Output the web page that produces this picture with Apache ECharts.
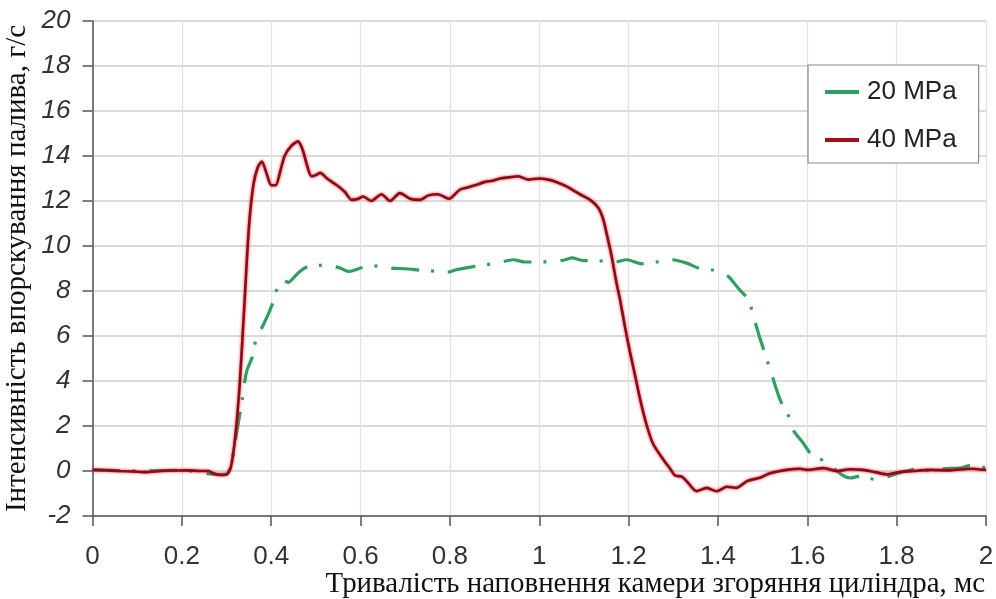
<!DOCTYPE html>
<html>
<head>
<meta charset="utf-8">
<script src="https://cdn.jsdelivr.net/npm/echarts@6/dist/echarts.min.js"></script>
<style>
  html, body { margin: 0; padding: 0; background: #fff; }
  #chart { width: 996px; height: 599px; }
</style>
</head>
<body>
<div id="chart"></div>
<script>
// Fuel injection rate vs. time for two rail pressures
const yTicks = [-2, 0, 2, 4, 6, 8, 10, 12, 14, 16, 18, 20];
const xTicks = [0, 0.2, 0.4, 0.6, 0.8, 1, 1.2, 1.4, 1.6, 1.8, 2];
const seriesNames = ['20 MPa', '40 MPa'];

// 20 MPa
const t20 = [0, 0.1, 0.2, 0.28, 0.30, 0.31, 0.32, 0.335, 0.345, 0.357, 0.365, 0.38, 0.393, 0.406,
  0.416, 0.427, 0.438, 0.453, 0.464, 0.483, 0.513, 0.539, 0.554, 0.573, 0.606, 0.644, 0.67, 0.7,
  0.737, 0.774, 0.793, 0.815, 0.834, 0.871, 0.905, 0.942, 0.968, 1.003, 1.035, 1.058, 1.073, 1.099,
  1.13, 1.166, 1.196, 1.229, 1.261, 1.296, 1.33, 1.356, 1.391, 1.423, 1.445, 1.468, 1.482, 1.494,
  1.517, 1.539, 1.557, 1.569, 1.591, 1.606, 1.621, 1.636, 1.66, 1.68, 1.696, 1.722, 1.748, 1.781,
  1.81, 1.837, 1.852, 1.875, 1.904, 1.942, 1.964, 2.0];
const v20 = [0.05, 0.0, 0.03, -0.15, -0.15, 0.2, 1.4, 3.17, 4.43, 5.03, 5.76, 6.4, 6.95, 7.6,
  8.28, 8.5, 8.38, 8.65, 8.87, 9.09, 9.14, 9.09, 9.02, 8.87, 9.05, 9.12, 9.02, 8.99,
  8.92, 8.87, 8.83, 8.95, 9.02, 9.14, 9.24, 9.39, 9.29, 9.29, 9.32, 9.39, 9.47, 9.35,
  9.35, 9.27, 9.39, 9.21, 9.29, 9.39, 9.24, 9.02, 8.92, 8.65, 8.13, 7.61, 6.7, 5.9,
  4.5, 3.17, 2.5, 1.8, 1.24, 0.8, 0.58, 0.47, 0.1, -0.2, -0.31, -0.21, -0.36, -0.24,
  -0.05, 0.06, 0.13, 0.0, 0.1, 0.13, 0.24, 0.15];

// 40 MPa
const t40 = [0, 0.03, 0.06, 0.09, 0.12, 0.15, 0.18, 0.21, 0.24, 0.26, 0.27, 0.285, 0.30, 0.31,
  0.32, 0.33, 0.34, 0.35, 0.36, 0.37, 0.379, 0.39, 0.40, 0.41, 0.42, 0.43, 0.445, 0.46, 0.47,
  0.48, 0.49, 0.50, 0.51, 0.525, 0.547, 0.565, 0.58, 0.595, 0.606, 0.624, 0.647, 0.666, 0.688,
  0.711, 0.733, 0.752, 0.773, 0.798, 0.822, 0.84, 0.856, 0.879, 0.895, 0.912, 0.932, 0.953,
  0.975, 1.0, 1.02, 1.035, 1.061, 1.091, 1.114, 1.132, 1.143, 1.152, 1.162, 1.173, 1.181,
  1.192, 1.203, 1.215, 1.226, 1.241, 1.255, 1.278, 1.293, 1.304, 1.319, 1.332, 1.352, 1.375,
  1.397, 1.42, 1.442, 1.465, 1.494, 1.517, 1.554, 1.584, 1.599, 1.636, 1.666, 1.696, 1.725,
  1.752, 1.778, 1.807, 1.837, 1.875, 1.92, 1.964, 2.0];
const v40 = [0.05, 0.03, 0.0, -0.02, -0.05, 0.0, 0.02, 0.03, 0.0, 0.0, -0.1, -0.18, -0.15, 0.2,
  1.6, 4.0, 7.4, 10.8, 12.7, 13.5, 13.75, 13.2, 12.7, 12.7, 13.3, 14.0, 14.45, 14.65, 14.3,
  13.6, 13.1, 13.15, 13.25, 13.0, 12.7, 12.4, 12.05, 12.1, 12.2, 12.0, 12.3, 12.0, 12.35,
  12.1, 12.05, 12.25, 12.3, 12.1, 12.5, 12.6, 12.7, 12.85, 12.9, 13.0, 13.05, 13.1,
  12.95, 13.0, 12.95, 12.87, 12.65, 12.3, 12.05, 11.7, 11.2, 10.45, 9.55, 8.35, 7.6,
  6.4, 5.3, 4.2, 3.17, 2.0, 1.2, 0.5, 0.1, -0.2, -0.25, -0.5, -0.9, -0.75,
  -0.9, -0.7, -0.75, -0.45, -0.3, -0.1, 0.05, 0.1, 0.05, 0.13, 0.0, 0.08, 0.05,
  -0.05, -0.15, -0.05, 0.0, 0.05, 0.03, 0.1, 0.05];

const pairs = (ts, vs) => ts.map((t, i) => [t, vs[i]]);

const chart = echarts.init(document.getElementById('chart'), null, { renderer: 'canvas' });

chart.setOption({
  animation: false,
  backgroundColor: '#ffffff',
  grid: { left: 92.5, right: 10, top: 21, bottom: 83, containLabel: false, outerBoundsMode: 'none' },
  xAxis: {
    type: 'value',
    min: xTicks[0], max: xTicks[xTicks.length - 1], interval: 0.2,
    name: 'Тривалість наповнення камери згоряння циліндра, мс',
    nameLocation: 'end',
    nameGap: -1,
    nameMoveOverlap: false,
    nameTextStyle: {
      fontFamily: 'Liberation Serif', fontSize: 28.9, color: '#111',
      align: 'right', verticalAlign: 'top', padding: [54, 0, 0, 0]
    },
    axisLine: { show: true, onZero: false, lineStyle: { color: '#555', width: 1.5 } },
    axisTick: { show: true, length: 10, lineStyle: { color: '#555', width: 1.5 } },
    axisLabel: {
      margin: 28, fontFamily: 'Liberation Sans', fontSize: 26, color: '#333',
      formatter: v => String(Math.round(v * 10) / 10)
    },
    splitLine: { show: true, lineStyle: { color: '#e2e2e2', width: 1.2 } }
  },
  yAxis: {
    type: 'value',
    min: yTicks[0], max: yTicks[yTicks.length - 1], interval: 2,
    name: 'Інтенсивність впорскування палива, г/с',
    nameLocation: 'middle',
    nameGap: 61,
    nameMoveOverlap: false,
    nameTextStyle: {
      fontFamily: 'Liberation Serif', fontSize: 29, color: '#111',
      padding: [0, 0, 0, 0]
    },
    axisLine: { show: true, onZero: false, lineStyle: { color: '#555', width: 1.5 } },
    axisTick: { show: true, length: 10, lineStyle: { color: '#555', width: 1.5 } },
    axisLabel: {
      margin: 22, fontFamily: 'Liberation Sans', fontSize: 26, fontStyle: 'italic', color: '#333'
    },
    splitLine: { show: true, lineStyle: { color: '#cfcfcf', width: 1.5 } }
  },
  legend: {
    orient: 'vertical',
    left: 808, top: 65,
    padding: [14, 22, 10, 17],
    itemGap: 22,
    itemWidth: 34, itemHeight: 4,
    icon: 'rect',
    borderColor: '#8a8a8a', borderWidth: 1.2,
    backgroundColor: '#ffffff',
    textStyle: { fontFamily: 'Liberation Sans', fontSize: 26, color: '#222', lineHeight: 26, padding: [0, 0, 0, 3] },
    data: [seriesNames[0], seriesNames[1]]
  },
  series: [
    {
      name: seriesNames[0], type: 'line', data: pairs(t20, v20),
      symbol: 'none', smooth: 0.25, z: 2,
      color: '#2e9f5e',
      lineStyle: { color: '#2e9f5e', width: 3.2, type: [28, 12, 3, 14], dashOffset: 0 }
    },
    {
      name: seriesNames[1], type: 'line', data: pairs(t40, v40),
      symbol: 'none', smooth: 0.25, z: 3,
      color: '#a50f1c',
      lineStyle: { color: '#8c0b15', width: 2.6, shadowColor: 'rgba(230,30,45,0.9)', shadowBlur: 3 }
    }
  ]
});
</script>
</body>
</html>
